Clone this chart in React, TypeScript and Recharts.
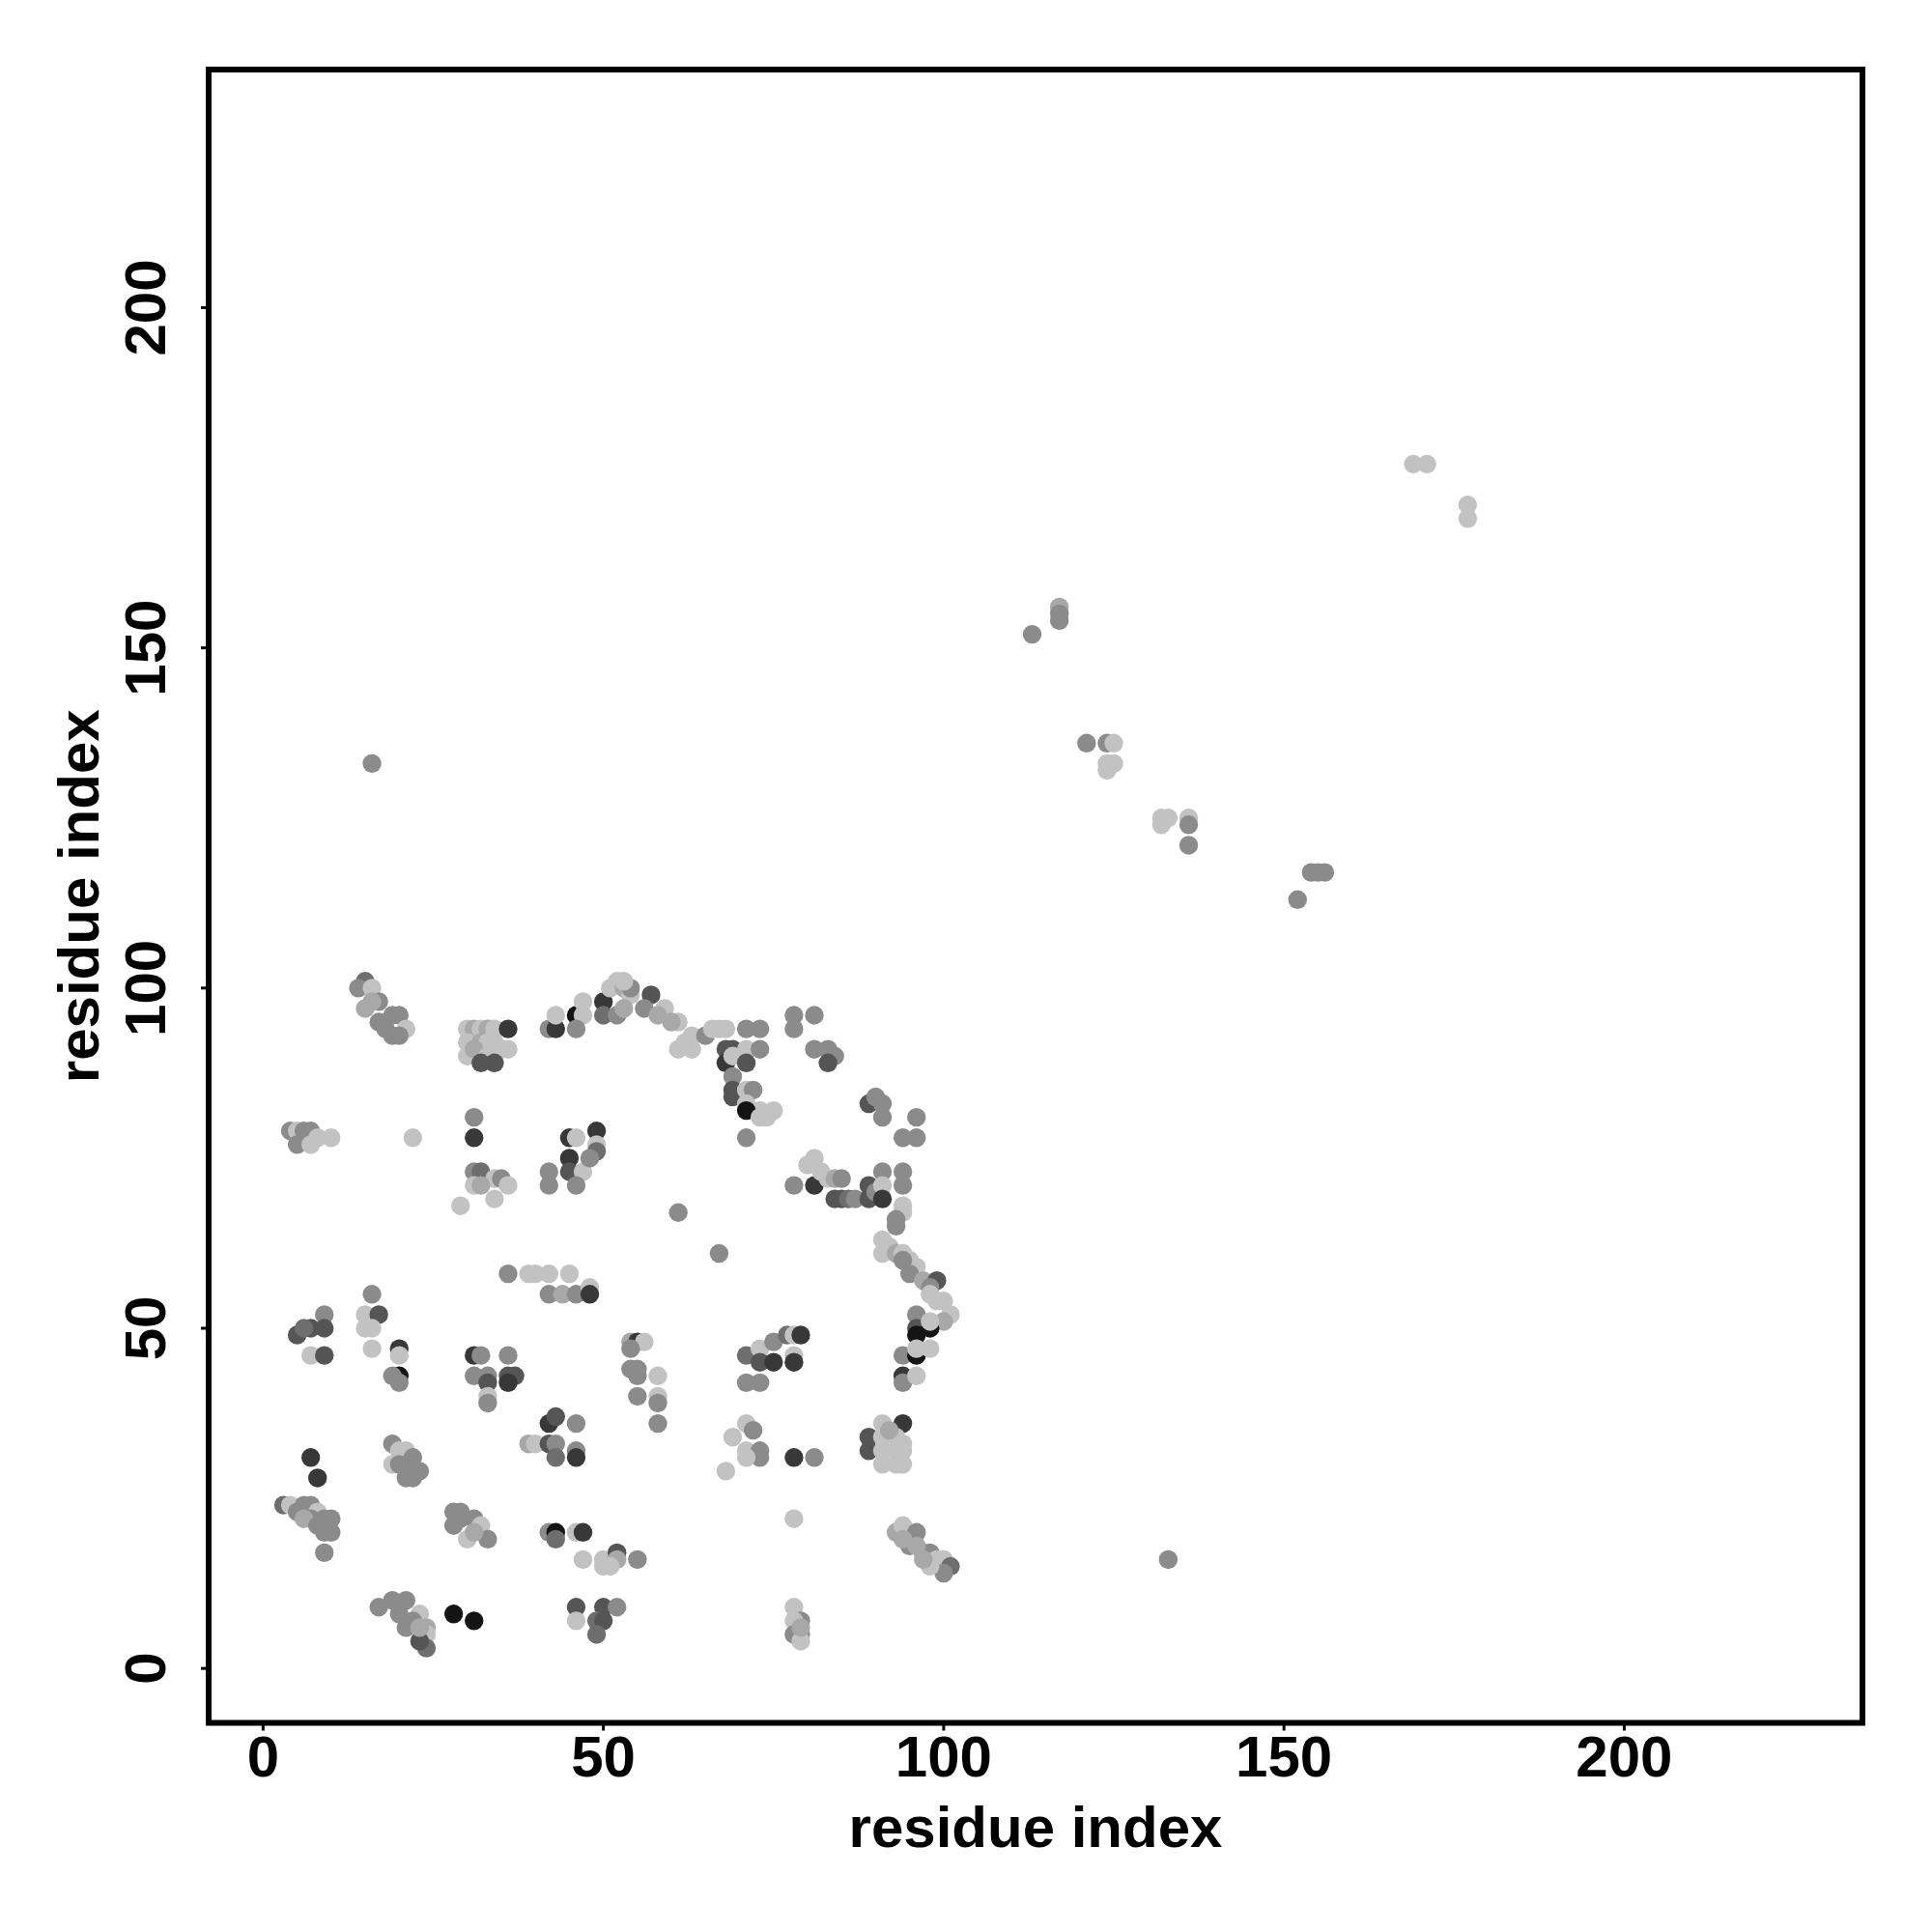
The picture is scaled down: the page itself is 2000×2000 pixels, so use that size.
import React from 'react';
import { ScatterChart, Scatter, XAxis, YAxis, ReferenceArea } from 'recharts';

// contact map: residue i (x), residue j (y), contact strength level (1 = strongest/darkest .. 7 = weakest/lightest)
const pts: number[][] = [
  [169,177,7],[171,177,7],[177,171,7],[177,169,7],
  [113,152,5],[117,156,6],[117,155,5],[117,154,5],
  [121,136,5],[124,136,5],[125,136,7],[124,133,7],[125,133,7],[124,132,7],
  [132,125,7],[133,125,7],[132,124,7],[136,125,7],[136,124,5],[136,121,5],
  [154,117,5],[155,117,5],[156,117,5],[152,113,5],
  [133,16,5],[16,133,5],
  [15,101,4],[14,100,5],[16,100,7],[17,98,5],[15,97,6],[17,95,5],[19,96,5],[20,96,5],[21,94,7],[19,93,5],[20,93,5],[18,94,5],[16,98,6],
  [30,94,7],[31,94,6],[32,94,7],[33,94,6],[34,94,7],[30,92,7],[32,92,6],[33,92,7],[34,92,7],[30,90,7],[31,91,6],[33,90,7],[35,91,7],[32,89,3],[34,89,3],[36,94,2],[36,91,7],
  [42,94,5],[43,94,2],[43,96,7],[46,96,1],[47,96,7],[47,98,7],[46,94,5],[50,98,2],[50,96,4],[52,96,5],[52,101,7],[51,100,7],[53,100,6],[54,99,7],[54,100,5],[53,97,6],
  [53,101,7],[57,99,3],[59,97,7],[61,95,7],[63,93,7],[63,91,7],[61,91,7],[56,97,5],[58,96,6],[60,95,6],[62,92,7],[65,93,5],[66,94,7],[67,94,7],[68,94,7],[71,94,5],[73,94,5],[78,96,5],[78,94,5],[81,96,5],
  [68,91,3],[69,91,3],[71,91,7],[73,91,5],[68,89,2],[69,90,7],[71,89,3],[69,87,5],[69,85,3],[69,84,3],[71,85,7],[72,85,5],[71,83,7],[73,82,7],[75,82,7],[71,82,1],[73,81,7],[74,81,7],[71,78,5],
  [81,91,5],[83,91,5],[84,90,5],[83,89,3],
  [89,83,3],[90,84,5],[91,83,5],[91,81,5],[96,81,5],[94,78,5],[96,78,5],
  [78,71,5],[80,74,7],[81,75,7],[81,71,2],[82,73,7],[83,72,7],[84,72,6],[85,72,5],[84,69,3],[85,69,3],[86,69,4],[87,69,5],[89,71,3],[89,69,3],[90,70,5],[91,73,5],[91,71,7],[91,69,2],[94,73,5],[94,71,5],[94,68,7],[94,67,7],[93,66,5],[93,65,5],[91,63,7],[91,61,7],[92,62,7],[93,61,6],[94,61,7],[95,60,7],[96,59,7],[94,60,5],[95,58,5],[97,57,6],[99,57,3],[98,56,5],[98,55,7],[100,54,7],[99,54,7],[101,52,7],[100,51,6],[96,52,5],[96,50,3],[98,50,1],[98,51,7],[96,49,1],
  [61,67,5],[67,61,5],
  [4,79,5],[5,79,7],[6,79,5],[7,79,5],[5,77,5],[7,77,7],[8,78,7],[10,78,7],
  [22,78,7],[31,81,5],[31,78,2],
  [31,73,5],[32,73,4],[31,71,7],[34,72,7],[35,72,5],[36,71,7],[34,69,7],[29,68,7],[32,71,6],
  [42,73,5],[42,71,5],[45,78,2],[46,78,7],[49,79,2],[49,77,7],[49,76,4],[45,75,2],[45,73,3],[47,73,7],[46,71,5],[48,75,5],
  [36,58,5],[39,58,7],[40,58,7],[42,58,7],[45,58,7],[42,55,5],[44,55,6],[46,55,5],[48,56,7],[48,55,2],
  [16,55,5],
  [9,52,5],[7,50,3],[5,49,3],[9,50,3],[7,46,7],[9,46,3],[6,50,4],
  [15,52,7],[17,52,3],[15,50,7],[16,50,7],[16,47,7],[20,47,2],[20,46,7],[20,43,1],[19,43,5],[20,42,5],
  [31,46,2],[32,46,5],[36,46,5],[31,43,5],[33,43,5],[33,42,3],[36,43,3],[37,43,3],[36,42,2],[33,40,7],[33,39,5],
  [42,36,2],[43,37,3],[46,36,5],[39,33,6],[40,33,7],[42,33,3],[43,33,5],[43,31,4],[46,32,5],[46,31,2],
  [19,33,5],[20,32,7],[21,32,7],[22,31,5],[19,30,7],[20,30,5],[22,29,5],[23,29,5],[21,28,5],[22,28,5],
  [7,31,2],[8,28,2],
  [3,24,4],[4,24,7],[6,24,5],[7,24,5],[8,23,7],[5,23,5],[7,22,5],[9,22,5],[10,22,5],[10,20,5],[9,20,5],[9,17,5],[6,22,6],[8,21,5],
  [28,23,5],[29,23,5],[31,22,5],[32,21,7],[28,21,5],[30,19,7],[33,19,5],[31,20,6],[29,22,5],
  [42,20,5],[43,20,1],[43,19,4],[46,20,7],[47,20,2],[47,16,7],[50,16,7],[52,17,3],[52,16,6],[55,16,5],[51,15,7],[50,15,7],
  [17,9,5],[19,10,5],[21,10,5],[20,8,5],[23,8,7],[21,6,5],[24,6,6],[24,5,7],[24,3,4],[23,4,3],[22,7,5],[23,6,6],
  [28,8,1],[31,7,1],
  [46,9,3],[46,7,7],[50,9,3],[52,9,5],[49,7,4],[50,7,3],[49,5,4],
  [54,48,6],[55,48,2],[56,48,7],[54,44,5],[55,44,5],[55,43,5],[58,43,7],[58,40,7],[58,39,5],[58,36,5],[55,40,5],[54,47,5],
  [71,46,4],[73,47,7],[73,45,3],[75,45,2],[75,48,5],[77,49,4],[78,49,7],[79,49,2],[78,46,7],[78,45,2],[71,42,5],[73,42,5],
  [94,46,5],[96,46,1],[96,47,7],[98,47,7],[94,43,2],[94,42,5],[96,43,7],
  [71,36,7],[72,35,5],[69,34,7],[71,32,7],[73,32,5],[73,31,5],[71,31,7],[68,29,7],[78,31,2],[81,31,5],
  [89,34,3],[89,32,3],[91,36,7],[94,36,2],[91,34,7],[93,34,7],[94,33,7],[91,32,7],[93,32,7],[94,32,7],[91,30,7],[93,30,7],[94,30,7],[92,35,6],
  [78,22,7],
  [93,20,6],[94,21,7],[96,20,5],[95,18,5],[97,17,5],[98,17,5],[99,16,7],[100,16,7],[101,15,4],[100,14,5],[98,15,7],[94,19,6],[96,18,6],[97,16,6],
  [78,9,7],[79,7,5],[78,7,7],[78,5,5],[79,5,5],[79,4,7],[79,6,6],
];

const residueI: number[] = pts.map((p) => p[0]);
const residueJ: number[] = pts.map((p) => p[1]);
const level: number[] = pts.map((p) => p[2]);

const tickValues = [0, 50, 100, 150, 200];
const axisTitle = 'residue index';

const SHADES: Record<number, string> = {
  1: '#141414',
  2: '#383838',
  3: '#555555',
  4: '#6e6e6e',
  5: '#8b8b8b',
  6: '#a8a8a8',
  7: '#c2c2c2',
};

const FONT = '"Liberation Sans", Arial, Helvetica, sans-serif';

const data = residueI.map((x, k) => ({ i: x, j: residueJ[k], level: level[k] }));

const Dot = (props: any) => {
  const { cx, cy, payload } = props;
  if (cx == null || cy == null) return null;
  return <circle cx={cx} cy={cy} r={9.7} fill={SHADES[payload.level]} />;
};

const YTick = (props: any) => {
  const { x, y, payload } = props;
  return (
    <text
      x={x}
      y={y}
      transform={`rotate(-90 ${x} ${y})`}
      textAnchor="middle"
      fontSize={60}
      fontWeight="bold"
      fontFamily={FONT}
      fill="#000"
    >
      {payload.value}
    </text>
  );
};

const XTitle = (props: any) => {
  const vb = props.viewBox || { x: 216, y: 1783.5, width: 1712, height: 60 };
  return (
    <text
      x={vb.x + vb.width / 2}
      y={vb.y + 128.5}
      textAnchor="middle"
      fontSize={60}
      fontWeight="bold"
      fontFamily={FONT}
      fill="#000"
    >
      {axisTitle}
    </text>
  );
};

const YTitle = (props: any) => {
  const vb = props.viewBox || { x: 116, y: 72, width: 100, height: 1711.5 };
  const tx = vb.x - 14;
  const ty = vb.y + vb.height / 2;
  return (
    <text
      x={tx}
      y={ty}
      transform={`rotate(-90 ${tx} ${ty})`}
      textAnchor="middle"
      fontSize={60}
      fontWeight="bold"
      fontFamily={FONT}
      fill="#000"
    >
      {axisTitle}
    </text>
  );
};

export default function App() {
  return (
    <div style={{ position: 'absolute', left: 0, top: 0, width: 2000, height: 2000, background: '#fff' }}>
      <ScatterChart width={2000} height={2000} margin={{ top: 72, right: 72, left: 116, bottom: 156.5 }}>
        <XAxis
          type="number"
          dataKey="i"
          domain={[-8, 235]}
          ticks={tickValues}
          interval={0}
          allowDataOverflow
          axisLine={false}
          tickLine={{ stroke: '#000', strokeWidth: 3 }}
          tickSize={8}
          tickMargin={5}
          height={60}
          tick={{ fontSize: 60, fontWeight: 'bold', fill: '#000', fontFamily: FONT }}
          label={{ content: XTitle }}
        />
        <YAxis
          type="number"
          dataKey="j"
          domain={[-8, 235]}
          ticks={tickValues}
          interval={0}
          allowDataOverflow
          axisLine={false}
          tickLine={{ stroke: '#000', strokeWidth: 3 }}
          tickSize={8}
          tickMargin={37}
          width={100}
          tick={<YTick />}
          label={{ content: YTitle }}
        />
        <Scatter data={data} shape={<Dot />} isAnimationActive={false} />
        <ReferenceArea x1={-8} x2={235} y1={-8} y2={235} fill="none" fillOpacity={0} stroke="#000" strokeWidth={6} />
      </ScatterChart>
    </div>
  );
}
